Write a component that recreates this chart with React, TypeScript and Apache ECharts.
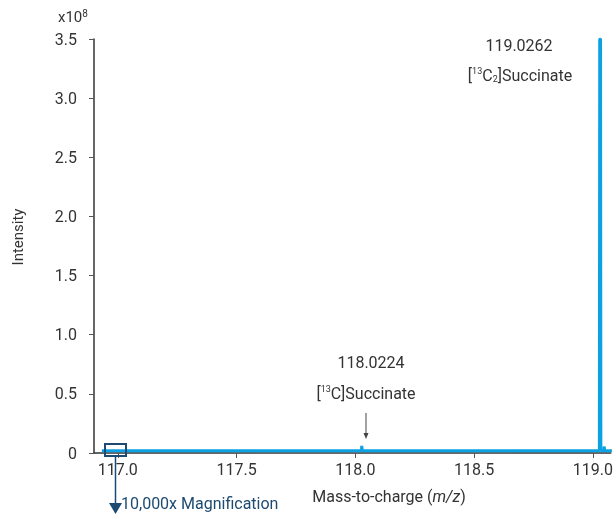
import React, { useEffect, useRef } from "react";
import * as echarts from "echarts";

const mzValues = [116.933, 118.0262, 118.0268, 118.0292, 118.0298, 119.0272, 119.0287, 119.0321, 119.0335, 119.0465, 119.0472, 119.0492, 119.0499, 119.08];
const intensities = [0.018, 0.018, 0.06, 0.06, 0.018, 0.018, 3.5, 3.5, 0.018, 0.018, 0.055, 0.055, 0.018, 0.018];
const xTicks = [117.0, 117.5, 118.0, 118.5, 119.0];
const peakLabels = ["119.0262", "118.0224"];

const FONT = "Roboto";
const FS = 16;
const TXT = "#333";

export default function App() {
  const ref = useRef<HTMLDivElement>(null);
  useEffect(() => {
    const chart = echarts.init(ref.current!, null, { renderer: "svg" });
    const data = mzValues.map((x, i) => [x, intensities[i]]);
    chart.setOption({
      animation: false,
      textStyle: { fontFamily: FONT },
      grid: { left: 94, top: 39, bottom: 61, right: 0 },
      xAxis: {
        type: "value",
        min: 116.9,
        max: 119.075,
        axisLine: { show: true, lineStyle: { color: "#333", width: 1.5 } },
        axisTick: { show: true, customValues: xTicks, length: 5, lineStyle: { color: "#555" } },
        axisLabel: {
          customValues: xTicks,
          formatter: (v: number) => v.toFixed(1),
          color: TXT,
          fontSize: FS,
          fontFamily: FONT,
          margin: 8,
        },
        splitLine: { show: false },
      },
      yAxis: {
        type: "value",
        min: 0,
        max: 3.5,
        interval: 0.5,
        axisLine: { show: true, lineStyle: { color: "#333", width: 1.5 } },
        axisTick: { show: true, length: 5, lineStyle: { color: "#555" } },
        axisLabel: {
          formatter: (v: number) => (v === 0 ? "0" : v.toFixed(1)),
          color: TXT,
          fontSize: FS,
          fontFamily: FONT,
          margin: 17,
        },
        splitLine: { show: false },
      },
      series: [
        {
          type: "line",
          data,
          symbol: "none",
          lineStyle: { color: "#0aa2e2", width: 3 },
          z: 3,
        },
      ],
      graphic: [
        {
          type: "text",
          left: 58,
          top: 8,
          style: {
            text: "{a|x10}{s|8}",
            rich: {
              a: { fontSize: 15, fill: TXT, fontFamily: FONT },
              s: { fontSize: 10, fill: TXT, fontFamily: FONT, padding: [0, 0, 8, 0] },
            },
          },
        },
        {
          type: "text",
          x: 18,
          y: 237,
          rotation: Math.PI / 2,
          style: {
            text: "Intensity",
            fontSize: 15,
            fill: TXT,
            fontFamily: FONT,
            align: "center",
            verticalAlign: "middle",
          },
        },
        {
          type: "text",
          x: 389,
          y: 496,
          style: {
            text: "{n|Mass-to-charge (}{i|m/z}{n|)}",
            align: "center",
            verticalAlign: "middle",
            rich: {
              n: { fontSize: FS, fill: TXT, fontFamily: FONT },
              i: { fontSize: FS, fill: TXT, fontFamily: FONT, fontStyle: "italic" },
            },
          },
        },
        {
          type: "text",
          x: 519,
          y: 45,
          style: { text: peakLabels[0], fontSize: FS, fill: TXT, fontFamily: FONT, align: "center", verticalAlign: "middle" },
        },
        {
          type: "text",
          x: 520,
          y: 75,
          style: {
            text: "{n|[}{s|13}{n|C}{b|2}{n|]Succinate}",
            align: "center",
            verticalAlign: "middle",
            rich: {
              n: { fontSize: FS, fill: TXT, fontFamily: FONT },
              s: { fontSize: 9, fill: TXT, fontFamily: FONT, padding: [0, 0, 8, 0] },
              b: { fontSize: 9, fill: TXT, fontFamily: FONT, padding: [8, 0, 0, 0] },
            },
          },
        },
        {
          type: "text",
          x: 371,
          y: 362,
          style: { text: peakLabels[1], fontSize: FS, fill: TXT, fontFamily: FONT, align: "center", verticalAlign: "middle" },
        },
        {
          type: "text",
          x: 366,
          y: 393,
          style: {
            text: "{n|[}{s|13}{n|C]Succinate}",
            align: "center",
            verticalAlign: "middle",
            rich: {
              n: { fontSize: FS, fill: TXT, fontFamily: FONT },
              s: { fontSize: 9, fill: TXT, fontFamily: FONT, padding: [0, 0, 8, 0] },
            },
          },
        },
        {
          type: "line",
          shape: { x1: 366, y1: 413, x2: 366, y2: 435 },
          style: { stroke: "#444", lineWidth: 1 },
        },
        {
          type: "polygon",
          shape: { points: [[363.5, 433], [368.5, 433], [366, 439]] },
          style: { fill: "#444" },
        },
        {
          type: "rect",
          shape: { x: 105, y: 444, width: 21, height: 12 },
          style: { stroke: "#1d4a70", fill: "none", lineWidth: 2 },
          z: 10,
        },
        {
          type: "line",
          shape: { x1: 115.5, y1: 456, x2: 115.5, y2: 506 },
          style: { stroke: "#1d4a70", lineWidth: 1.5 },
          z: 10,
        },
        {
          type: "polygon",
          shape: { points: [[109, 503], [122, 503], [115.5, 514]] },
          style: { fill: "#1d4a70" },
          z: 10,
        },
        {
          type: "text",
          x: 121,
          y: 503,
          style: { text: "10,000x Magnification", fontSize: FS, fill: "#1d4a70", fontFamily: FONT, verticalAlign: "middle" },
          z: 10,
        },
      ],
    });
    return () => chart.dispose();
  }, []);
  return <div ref={ref} style={{ position: "fixed", left: 0, top: 0, width: 616, height: 514 }} />;
}
